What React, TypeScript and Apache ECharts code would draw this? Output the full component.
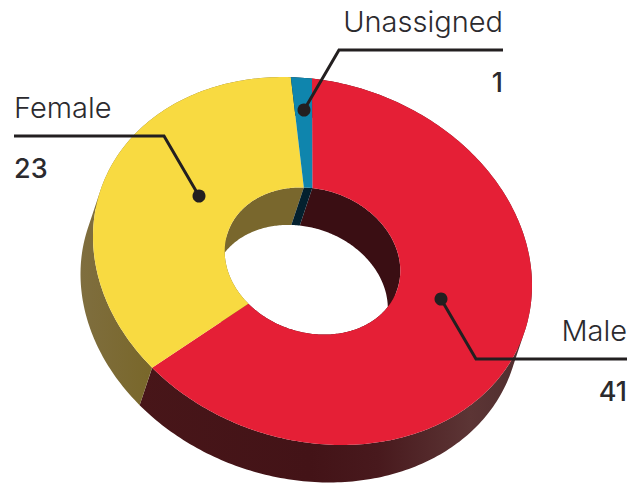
import React, { useEffect, useRef } from "react";
import * as echarts from "echarts";

const categories = ["Male", "Female", "Unassigned"];
const values = [41, 23, 1];
const topColors = ["#E51F36", "#F8DA41", "#0F85AD"];
const wallColors = ["#3A0E13", "#79672D", "#03202E"];

// projection of the tilted disc on the page
const CX = 312.5, CY = 261;
const AX = 219.5, BX = 0.5, AY = 24, BY = 182.4;
const INNER = 0.4;
const SHIFT_X = -12.5, SHIFT_Y = 37.5;
const FONT = "Inter, 'Noto Sans', sans-serif";
const INK = "#2B2A2E";

const total = values.reduce((a, b) => a + b, 0);

function angles(i: number): [number, number] {
  let s = 0;
  for (let k = 0; k < i; k++) s += values[k];
  return [(s / total) * Math.PI * 2, ((s + values[i]) / total) * Math.PI * 2];
}

function pt(t: number, r: number, sx = 0, sy = 0): [number, number] {
  const u = Math.sin(t) * r;
  const v = -Math.cos(t) * r;
  return [CX + AX * u + BX * v + sx, CY + AY * u + BY * v + sy];
}

function arcPoints(a0: number, a1: number, r: number) {
  const n = Math.max(2, Math.ceil(Math.abs(a1 - a0) / (Math.PI / 180)));
  const out: number[] = [];
  for (let k = 0; k <= n; k++) out.push(a0 + ((a1 - a0) * k) / n);
  return out.map((t) => ({ t, r }));
}

function topPath(a0: number, a1: number) {
  const pts = [
    ...arcPoints(a0, a1, 1).map((p) => pt(p.t, p.r)),
    ...arcPoints(a1, a0, INNER).map((p) => pt(p.t, p.r)),
  ];
  return "M" + pts.map((p) => p[0].toFixed(2) + " " + p[1].toFixed(2)).join("L") + "Z";
}

// the wall is a sweep of the rim along the depth; every quad gets one orientation so the union fills solid
function sweepPath(a0: number, a1: number, r: number) {
  const arc = arcPoints(a0, a1, r);
  let d = "";
  for (let k = 0; k < arc.length - 1; k++) {
    const a = pt(arc[k].t, r);
    const b = pt(arc[k + 1].t, r);
    const c = pt(arc[k + 1].t, r, SHIFT_X, SHIFT_Y);
    const e = pt(arc[k].t, r, SHIFT_X, SHIFT_Y);
    let q = [a, b, c, e];
    const area =
      (b[0] - a[0]) * (c[1] - a[1]) - (b[1] - a[1]) * (c[0] - a[0]);
    if (area < 0) q = [e, c, b, a];
    d += "M" + q.map((p) => p[0].toFixed(2) + " " + p[1].toFixed(2)).join("L") + "Z";
  }
  return d;
}

function outerFill(i: number) {
  if (i === 0) {
    return new echarts.graphic.LinearGradient(
      130, 0, 530, 0,
      [
        { offset: 0, color: "#481619" },
        { offset: 0.45, color: "#431317" },
        { offset: 0.62, color: "#48191D" },
        { offset: 0.85, color: "#5C3535" },
        { offset: 1, color: "#4E2D2E" },
      ],
      true
    );
  }
  if (i === 1) {
    return new echarts.graphic.LinearGradient(
      80, 0, 150, 0,
      [
        { offset: 0, color: "#7F6E3F" },
        { offset: 1, color: "#79672A" },
      ],
      true
    );
  }
  return wallColors[i];
}

const seriesData = categories.map((name, i) => ({ name, value: values[i] }));

function leader(points: number[][], dot: number[]) {
  return [
    {
      type: "polyline",
      shape: { points },
      style: { stroke: "#231F20", lineWidth: 3, fill: "none" },
      z: 20,
    },
    {
      type: "circle",
      shape: { cx: dot[0], cy: dot[1], r: 6.5 },
      style: { fill: "#231F20" },
      z: 21,
    },
  ];
}

function label(text: string, x: number, baseline: number, align: string, weight: number, size: number) {
  return {
    type: "text",
    x,
    y: baseline - size * 0.93 + 1,
    z: 22,
    style: {
      text,
      x: 0,
      y: 0,
      align,
      verticalAlign: "top",
      fontFamily: FONT,
      fontSize: size,
      fontWeight: weight,
      fill: INK,
    },
  };
}

export default function App() {
  const ref = useRef<HTMLDivElement>(null);
  useEffect(() => {
    const chart = echarts.init(ref.current!, null, { renderer: "svg" });
    chart.setOption({
      animation: false,
      backgroundColor: "#ffffff",
      series: [
        {
          type: "custom",
          coordinateSystem: "none",
          silent: true,
          z: 1,
          data: seriesData,
          renderItem: (p: any) => {
            const [a0, a1] = angles(p.dataIndex);
            return {
              type: "path",
              shape: { pathData: sweepPath(a0, a1, 1) },
              style: { fill: outerFill(p.dataIndex) },
            };
          },
        },
        {
          type: "custom",
          coordinateSystem: "none",
          silent: true,
          z: 2,
          data: seriesData,
          renderItem: (p: any) => {
            const [a0, a1] = angles(p.dataIndex);
            return {
              type: "path",
              shape: { pathData: sweepPath(a0, a1, INNER) },
              style: { fill: wallColors[p.dataIndex] },
            };
          },
        },
        {
          type: "custom",
          coordinateSystem: "none",
          silent: true,
          z: 3,
          data: seriesData,
          renderItem: (p: any) => {
            const [a0, a1] = angles(p.dataIndex);
            return {
              type: "path",
              shape: { pathData: topPath(a0, a1) },
              style: { fill: topColors[p.dataIndex] },
            };
          },
        },
      ],
      graphic: [
        ...leader([[503, 50], [339, 50], [304, 110]], [304, 110]),
        ...leader([[14, 136], [164, 136], [199, 196]], [199, 196]),
        ...leader([[627, 359], [476, 359], [441, 299]], [441, 299]),
        label(categories[2], 503, 33, "right", 300, 29),
        label(String(values[2]), 503, 93, "right", 500, 27),
        label(categories[1], 14, 119, "left", 300, 29),
        label(String(values[1]), 14, 179, "left", 500, 27),
        label(categories[0], 627, 342, "right", 300, 29),
        label(String(values[0]), 627, 402, "right", 500, 27),
      ],
    });
    return () => chart.dispose();
  }, []);
  return (
    <div
      ref={ref}
      style={{ position: "absolute", left: 0, top: 0, width: 644, height: 487 }}
    />
  );
}
